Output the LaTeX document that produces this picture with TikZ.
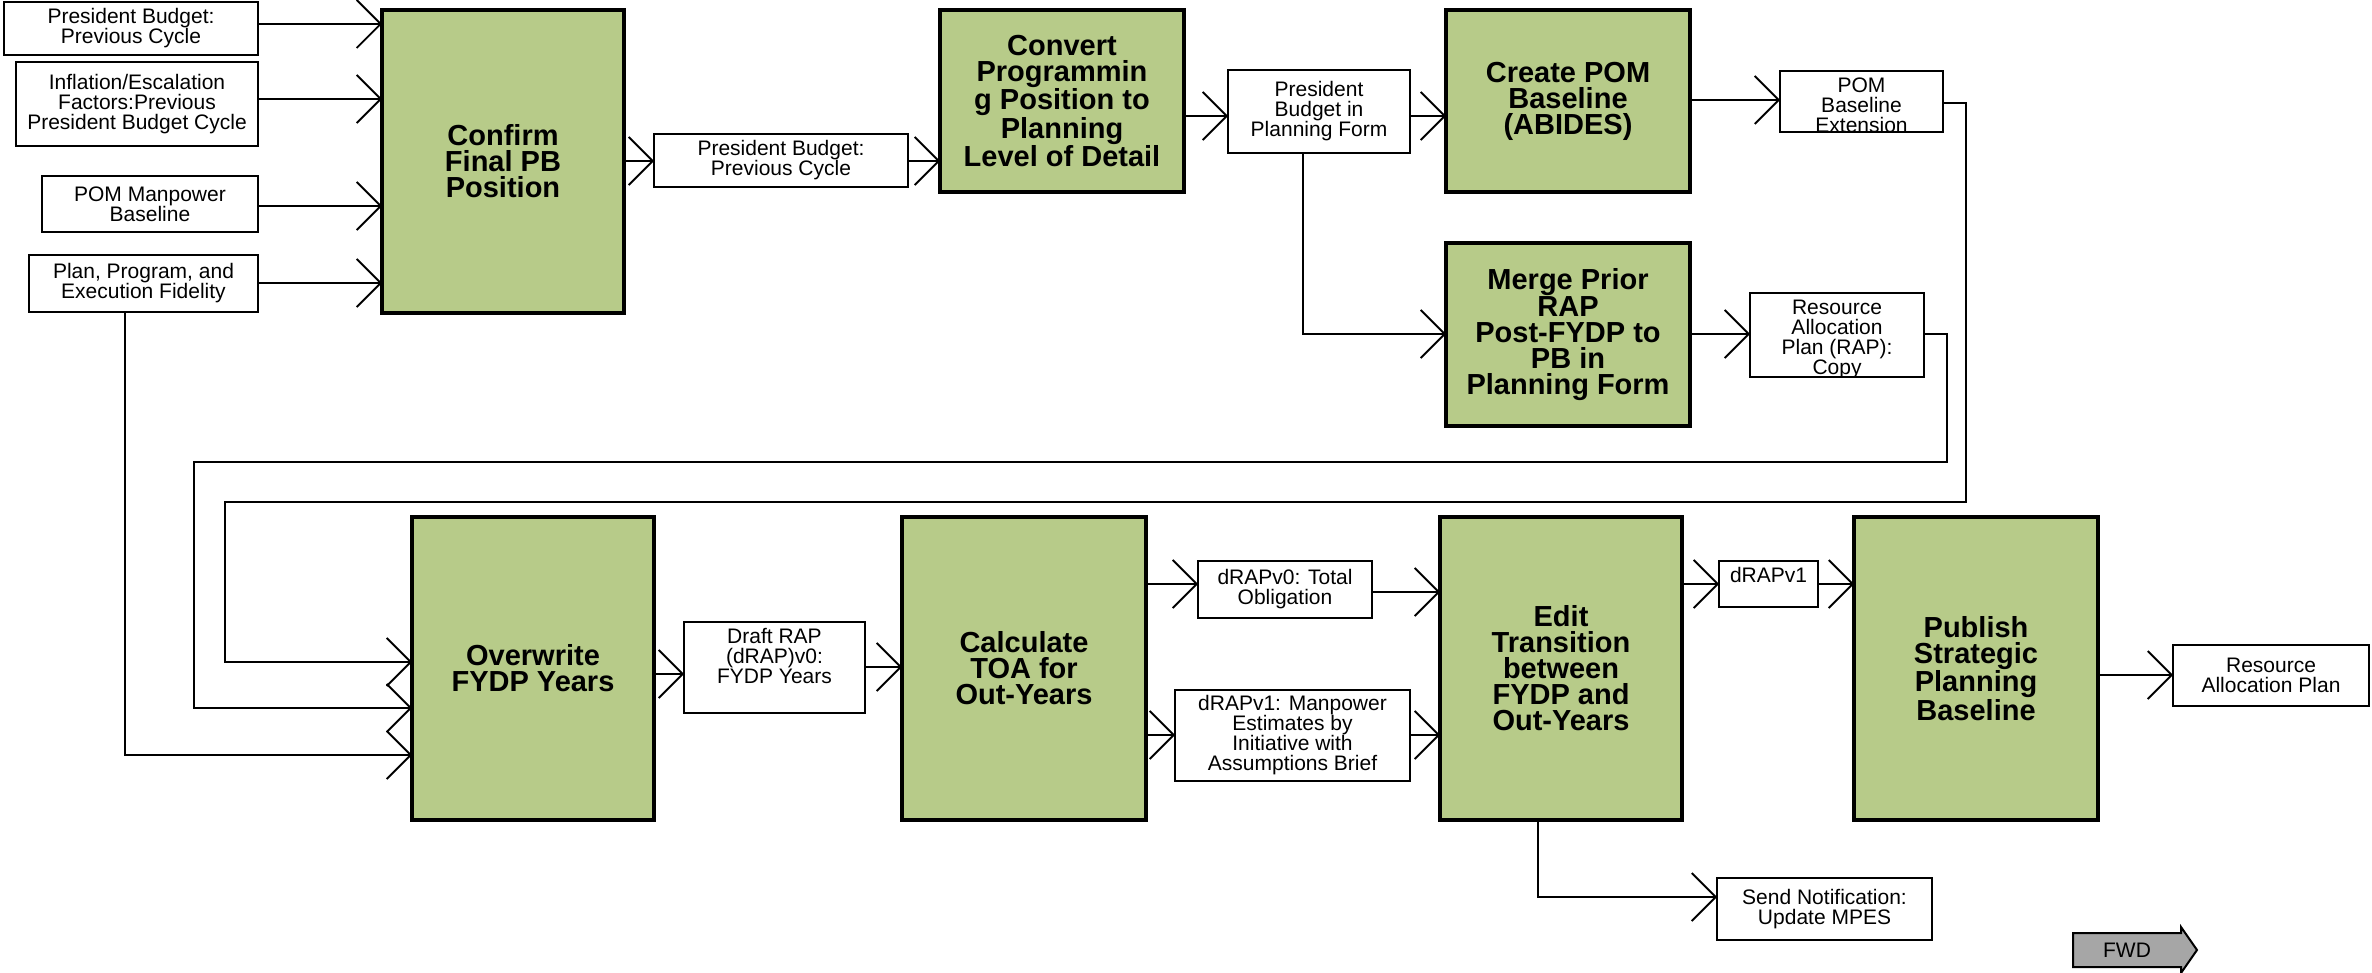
\documentclass[tikz,border=0pt]{standalone}
\usepackage{fontspec}
\setmainfont{Liberation Sans}
\usetikzlibrary{arrows.meta}
\definecolor{pgreen}{RGB}{183,203,137}
\definecolor{fwdgray}{RGB}{166,166,166}
\tikzset{
  sbox/.style={draw, line width=2.6pt, fill=white, inner sep=0pt, outer sep=0pt, anchor=north west, align=center, font=\fontsize{21}{20}\selectfont},
  stext/.style={inner sep=0pt, outer sep=0pt, align=center, font=\fontsize{21}{20}\selectfont},
  gbox/.style={draw, line width=4pt, fill=pgreen, inner sep=0pt, outer sep=0pt, anchor=north west, align=center, font=\fontsize{29}{26}\selectfont\bfseries},
  conn/.style={line width=1.8pt, -{Straight Barb[length=24pt,width=48pt]}},
  wire/.style={line width=1.8pt},
}
\begin{document}
\begin{tikzpicture}[x=1pt,y=-1pt]
\useasboundingbox (0,0) rectangle (2372,973);

% ---- top row inputs
\node[sbox, minimum width=254pt, minimum height=53pt] (pb1) at (4,2) {President Budget:\\Previous Cycle};
\node[sbox, minimum width=242pt, minimum height=84pt] (infl) at (16,62) {Inflation/Escalation\\Factors:Previous\\President Budget Cycle};
\node[sbox, minimum width=216pt, minimum height=56pt] (pomm) at (42,176) {POM Manpower\\Baseline};
\node[sbox, minimum width=229pt, minimum height=57pt] (plan) at (29,255) {Plan, Program, and\\Execution Fidelity};

% ---- top row process boxes
\node[gbox, minimum width=242pt, minimum height=303pt] (confirm) at (382,10) {Confirm\\Final PB\\Position};
\node[sbox, minimum width=254pt, minimum height=53pt] (pb2) at (654,134) {President Budget:\\Previous Cycle};
\node[gbox, minimum width=244pt, minimum height=182pt] (convert) at (940,10) {Convert\\Programmin\\g Position to\\Planning\\Level of Detail};
\node[sbox, minimum width=182pt, minimum height=83pt] (pbpf) at (1228,70) {President\\Budget in\\Planning Form};
\node[gbox, minimum width=244pt, minimum height=182pt] (create) at (1446,10) {Create POM\\Baseline\\(ABIDES)};
\node[gbox, minimum width=244pt, minimum height=183pt] (merge) at (1446,243) {Merge Prior\\RAP\\Post-FYDP to\\PB in\\Planning Form};

\node[sbox, minimum width=163pt, minimum height=61pt] (pomext) at (1780,71) {};
\begin{scope}
  \clip ([shift={(1.3pt,1.3pt)}]pomext.south west) rectangle ([shift={(-1.3pt,-1.3pt)}]pomext.north east);
  \node[stext, anchor=north] (pomextt) at ([yshift=-7pt]pomext.north) {POM\\Baseline\\Extension};
\end{scope}

\node[sbox, minimum width=174pt, minimum height=84pt] (rapcopy) at (1750,293) {};
\begin{scope}
  \clip ([shift={(1.3pt,1.3pt)}]rapcopy.south west) rectangle ([shift={(-1.3pt,-1.3pt)}]rapcopy.north east);
  \node[stext, anchor=north] (rapcopyt) at ([yshift=-7pt]rapcopy.north) {Resource\\Allocation\\Plan (RAP):\\Copy};
\end{scope}

% ---- bottom row
\node[gbox, minimum width=242pt, minimum height=303pt] (overwrite) at (412,517) {Overwrite\\FYDP Years};
\node[sbox, minimum width=181pt, minimum height=91pt, text depth=24pt] (draft) at (684,622) {Draft RAP\\(dRAP)v0:\\FYDP Years};
\node[gbox, minimum width=244pt, minimum height=303pt] (calc) at (902,517) {Calculate\\TOA for\\Out-Years};
\node[sbox, minimum width=174pt, minimum height=57pt] (drap0) at (1198,561) {dRAPv0: Total\\Obligation};
\node[sbox, minimum width=235pt, minimum height=91pt] (manp) at (1175,690) {dRAPv1: Manpower\\Estimates by\\Initiative with\\Assumptions Brief};
\node[gbox, minimum width=242pt, minimum height=303pt] (edit) at (1440,517) {Edit\\Transition\\between\\FYDP and\\Out-Years};
\node[sbox, minimum width=99pt, minimum height=46pt, text depth=18pt] (drap1) at (1719,561) {dRAPv1};
\node[gbox, minimum width=244pt, minimum height=303pt] (publish) at (1854,517) {Publish\\Strategic\\Planning\\Baseline};
\node[sbox, minimum width=196pt, minimum height=61pt] (rap) at (2173,645) {Resource\\Allocation Plan};
\node[sbox, minimum width=215pt, minimum height=62pt] (send) at (1717,878) {Send Notification:\\Update MPES};

% ---- FWD arrow
\draw[line width=2pt, fill=fwdgray] (2073,933) -- (2181,933) -- (2181,927) -- (2197,950) -- (2181,973) -- (2181,967) -- (2073,967) -- cycle;
\node[stext] (fwd) at (2127,950) {FWD};

% ---- connectors top row
\draw[conn] (pb1.east|-0,24) -- (confirm.west|-0,24);
\draw[conn] (infl.east|-0,99) -- (confirm.west|-0,99);
\draw[conn] (pomm.east|-0,206) -- (confirm.west|-0,206);
\draw[conn] (plan.east|-0,283) -- (confirm.west|-0,283);
\draw[conn] (confirm.east|-0,161) -- (pb2.west|-0,161);
\draw[conn] (pb2.east|-0,161) -- (convert.west|-0,161);
\draw[conn] (convert.east|-0,116) -- (pbpf.west|-0,116);
\draw[conn] (pbpf.east|-0,116) -- (create.west|-0,116);
\draw[conn] (create.east|-0,100) -- (pomext.west|-0,100);
\draw[conn] (pbpf.south-|1303,0) -- (1303,334) -- (merge.west|-0,334);
\draw[conn] (merge.east|-0,334) -- (rapcopy.west|-0,334);

% ---- feedback lines into Overwrite
\draw[conn] (pomext.east|-0,103) -- (1966,103) -- (1966,502) -- (225,502) -- (225,662) -- (overwrite.west|-0,662);
\draw[conn] (rapcopy.east|-0,334) -- (1947,334) -- (1947,462) -- (194,462) -- (194,708) -- (overwrite.west|-0,708);
\draw[conn] (plan.south-|125,0) -- (125,755) -- (overwrite.west|-0,755);

% ---- connectors bottom row
\draw[conn] (overwrite.east|-0,674) -- (draft.west|-0,674);
\draw[conn] (draft.east|-0,667) -- (calc.west|-0,667);
\draw[conn] (calc.east|-0,584) -- (drap0.west|-0,584);
\draw[conn] (drap0.east|-0,592) -- (edit.west|-0,592);
\draw[conn] (calc.east|-0,735) -- (manp.west|-0,735);
\draw[conn] (manp.east|-0,735) -- (edit.west|-0,735);
\draw[conn] (edit.east|-0,584) -- (drap1.west|-0,584);
\draw[conn] (drap1.east|-0,584) -- (publish.west|-0,584);
\draw[conn] (publish.east|-0,675) -- (rap.west|-0,675);
\draw[conn] (edit.south-|1538,0) -- (1538,897) -- (send.west|-0,897);
\end{tikzpicture}
\end{document}
